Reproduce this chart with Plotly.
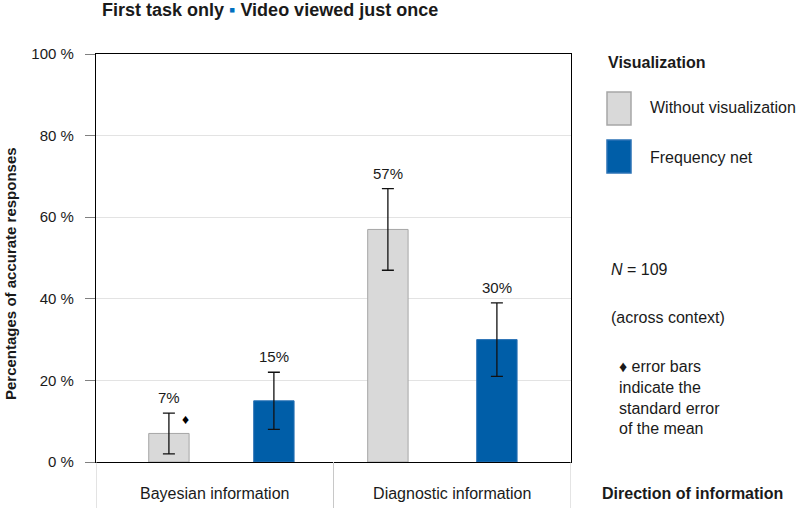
import plotly.graph_objects as go

# data
directions = ['Bayesian information', 'Diagnostic information']
without_vis = [7, 57]
without_vis_se = [5, 10]
freq_net = [15, 30]
freq_net_se = [7, 9]
y_ticks = [0, 20, 40, 60, 80, 100]
y_ticktext = ['%d %%' % v for v in y_ticks]

GRAY = '#d9d9d9'
BLUE = '#005ea8'
FONT = 'Liberation Sans, Arial, sans-serif'

# bar placement inside each category (category units)
bar_w = 0.17
gray_off = [-0.278, -0.356]
blue_off = [0.164, 0.103]

fig = go.Figure()

fig.add_trace(go.Bar(
    x=directions, y=without_vis, name='Without visualization',
    width=bar_w, offset=gray_off,
    marker=dict(color=GRAY, line=dict(color='#a6a6a6', width=1)),
    error_y=dict(type='data', array=without_vis_se, color='#111111', thickness=1.3, width=6),
))
fig.add_trace(go.Bar(
    x=directions, y=freq_net, name='Frequency net',
    width=bar_w, offset=blue_off,
    marker=dict(color=BLUE, line=dict(color='#2a72b5', width=1)),
    error_y=dict(type='data', array=freq_net_se, color='#111111', thickness=1.3, width=6),
))

# value labels above the error bars
for offs, vals, errs in [(gray_off, without_vis, without_vis_se), (blue_off, freq_net, freq_net_se)]:
    for i in range(len(directions)):
        fig.add_annotation(x=i + offs[i] + bar_w / 2, y=vals[i] + errs[i], xref='x', yref='y',
                           text='%d%%' % vals[i], showarrow=False, yanchor='bottom', yshift=5,
                           font=dict(size=15, color='#1a1a1a', family=FONT))

# diamond marker next to the first error bar
fig.add_annotation(x=gray_off[0] + bar_w / 2, y=without_vis[0] + without_vis_se[0], xref='x', yref='y',
                   text='♦', showarrow=False, xshift=17, yshift=-6,
                   font=dict(size=14, color='black', family=FONT))

# category box below the axis
for xb in [-0.5, 0.5, 1.5]:
    fig.add_shape(type='line', xref='x', yref='paper', x0=xb, x1=xb, y0=0, y1=-0.13,
                  line=dict(color='#c8c8c8', width=1))

def px(x):
    return (x - 96) / 475.0

def py(y):
    return (462 - y) / 408.0

# custom legend
fig.add_shape(type='rect', xref='paper', yref='paper', x0=px(607), x1=px(631), y0=py(125), y1=py(92),
              fillcolor=GRAY, line=dict(color='#a6a6a6', width=1.5))
fig.add_shape(type='rect', xref='paper', yref='paper', x0=px(607), x1=px(631), y0=py(173), y1=py(140),
              fillcolor=BLUE, line=dict(color='#2a72b5', width=1.5))

side_texts = [
    ('<b>Visualization</b>', 606, 62),
    ('Without visualization', 648, 108),
    ('Frequency net', 648, 157),
    ('<i>N</i> = 109', 609, 269),
    ('(across context)', 609, 317),
    ('♦ error bars<br>indicate the<br>standard error<br>of the mean', 617, 397),
    ('<b>Direction of information</b>', 600, 493),
]
for txt, x, y in side_texts:
    fig.add_annotation(x=px(x), y=py(y), xref='paper', yref='paper', text=txt, showarrow=False,
                       xanchor='left', yanchor='middle', align='left',
                       font=dict(size=16, color='#1a1a1a', family=FONT))

fig.add_annotation(x=px(100), y=py(10), xref='paper', yref='paper',
                   text="<b>First task only <span style='color:#0070c0'>▪</span> Video viewed just once</b>",
                   showarrow=False, xanchor='left', yanchor='middle',
                   font=dict(size=18, color='#1a1a1a', family=FONT))

fig.add_annotation(x=px(10), y=py(274), xref='paper', yref='paper',
                   text='<b>Percentages of accurate responses</b>', textangle=-90,
                   showarrow=False, xanchor='center', yanchor='middle',
                   font=dict(size=15, color='#1a1a1a', family=FONT))

fig.update_layout(
    width=800, height=508,
    margin=dict(l=96, r=229, t=54, b=46),
    plot_bgcolor='white', paper_bgcolor='white',
    showlegend=False,
    font=dict(family=FONT, color='#1a1a1a'),
    xaxis=dict(
        type='category', range=[-0.5, 1.5], automargin=False,
        showline=True, linecolor='black', linewidth=1.3, mirror=True,
        ticks='', ticklabelstandoff=17, showgrid=False,
        tickfont=dict(size=16, family=FONT, color='#1a1a1a'),
    ),
    yaxis=dict(
        range=[0, 100], tickmode='array', tickvals=y_ticks, ticktext=y_ticktext,
        automargin=False,
        showline=True, linecolor='black', linewidth=1.3, mirror=True,
        ticks='outside', ticklen=10, tickcolor='#808080', ticklabelstandoff=8,
        showgrid=True, gridcolor='#e3e3e3', zeroline=False,
        tickfont=dict(size=15, family=FONT, color='#1a1a1a'),
    ),
)

# page has a default 8px body margin; drop it so the figure sits at the window corner
fig.write_html("out.html", config={'displayModeBar': False},
               post_script="document.body.style.margin='0px';")
